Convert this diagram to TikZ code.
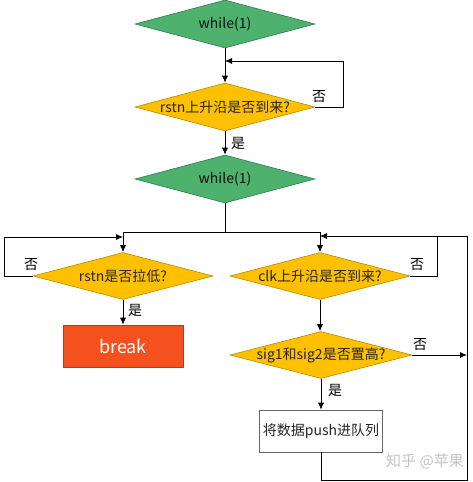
\documentclass[tikz,border=0pt]{standalone}
\usepackage{fontspec}
\setmainfont{Noto Sans CJK SC}
\usetikzlibrary{shapes.geometric,arrows.meta}
\definecolor{dgreen}{HTML}{4FB16E}
\definecolor{dgreenb}{HTML}{2E7D4A}
\definecolor{dyellow}{HTML}{FFC000}
\definecolor{dyellowb}{HTML}{B88A00}
\definecolor{dred}{HTML}{F4511E}
\definecolor{dredb}{HTML}{B8391A}
\definecolor{wmark}{HTML}{C4C4C4}
\tikzset{
  dia/.style={diamond, aspect=3.75, inner ysep=0pt, inner xsep=-9pt, minimum width=180pt, minimum height=48pt, draw, line width=0.6pt, font=\fontsize{14}{16}\selectfont},
  greendia/.style={dia, fill=dgreen, draw=dgreenb, text=black!85!dgreenb},
  yellowdia/.style={dia, fill=dyellow, draw=dyellowb, text=black!85},
  breakbox/.style={rectangle, fill=dred, draw=dredb, line width=0.6pt, minimum width=120pt, minimum height=42pt, text=white, font=\fontsize{18}{20}\selectfont},
  pushbox/.style={rectangle, fill=white, draw=black!60, line width=0.6pt, minimum width=121pt, minimum height=42pt, text=black!85, font=\fontsize{14}{16}\selectfont},
  conn/.style={draw=black, line width=0.8pt},
  arr/.style={conn, -{Latex[length=7pt,width=6pt]}},
  lab/.style={font=\fontsize{14}{16}\selectfont, text=black, inner sep=0pt},
}
\begin{document}
\begin{tikzpicture}[x=1pt,y=-1pt]
\useasboundingbox[fill=white] (0,0) rectangle (472,482);
\node[greendia] (d1) at (225,24) {while(1)};
\node[yellowdia] (d2) at (225,107) {rstn上升沿是否到来?};
\node[greendia] (d3) at (225,179) {while(1)};
\node[yellowdia, minimum height=47pt] (d4) at (123,276) {rstn是否拉低?};
\node[yellowdia, minimum height=47pt] (d5) at (320,276) {clk上升沿是否到来?};
\node[yellowdia, minimum height=47pt, minimum width=182pt] (d6) at (321,355) {sig1和sig2是否置高?};
\node[breakbox] (brk) at (123,346) {break};
\node[pushbox] (push) at (321,431) {将数据push进队列};

\coordinate (j1) at (225,61);
\coordinate (r1) at (343,61);
\coordinate (j2) at (225,232);
\coordinate (jl) at (123,232);
\coordinate (jr) at (320,232);
\coordinate (l4a) at (4,237);
\coordinate (l4b) at (123,237);
\coordinate (m5) at (320,236);
\coordinate (rr) at (467,236);
\coordinate (bot) at (321,480);
\coordinate (botr) at (467,480);
\coordinate (x6) at (467,355);
\coordinate (x5) at (437,236);

\draw[arr] (d1.south) -- (d2.north);
\draw[arr] (d2.east) -| (r1) -- (j1);
\draw[arr] (d2.south) -- (d3.north);
\draw[conn] (d3.south) -- (j2);
\draw[conn] (jl) -- (jr);
\draw[arr] (jl) -- (d4.north);
\draw[arr] (jr) -- (d5.north);
\draw[arr] (d4.west) -| (l4a) -- (l4b);
\draw[arr] (d4.south) -- (brk.north);
\draw[conn] (d5.east) -| (x5);
\draw[arr] (push.south) -- (bot) -- (botr) -- (rr) -- (m5);
\draw[arr] (d5.south) -- (d6.north -| d5.south);
\draw[arr] (d6.east) -- (x6);
\draw[arr] (d6.south) -- (push.north);

\node[lab] (n1) at (319,97) {否};
\node[lab] (y1) at (238,143) {是};
\node[lab] (n4) at (31,265) {否};
\node[lab] (y4) at (135,310) {是};
\node[lab] (n5) at (417,265) {否};
\node[lab] (n6) at (420,345) {否};
\node[lab] (y6) at (335,390) {是};
\node[font=\fontsize{15}{17}\selectfont, text=wmark, inner sep=0pt] (wm) at (425,461) {知乎 @苹果};
\end{tikzpicture}
\end{document}
